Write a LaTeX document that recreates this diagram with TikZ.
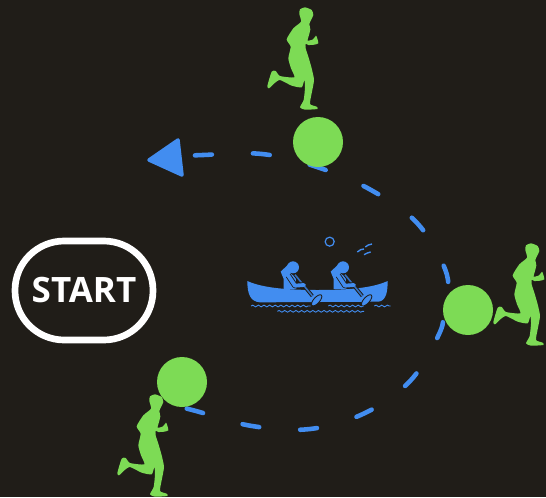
\documentclass[tikz,border=0pt]{standalone}
\usepackage{fontspec}
\setmainfont{Open Sans}
\usetikzlibrary{positioning,backgrounds,decorations.pathmorphing}
\definecolor{nightbg}{RGB}{32,29,24}
\definecolor{runnergreen}{RGB}{125,219,85}
\definecolor{routeblue}{RGB}{66,141,240}
\tikzset{
    pics/runner/.style={code={
        \fill[runnergreen, scale=1/3] plot[smooth cycle, tension=0.35] coordinates {
            (150,22) (170,30) (175,45) (168,60) (163,72) (166,88) (162,105) (158,122)
            (174,118) (183,107) (187,116) (190,130) (178,134) (160,135) (152,131)
            (152,145) (160,170) (170,205) (177,240) (170,280) (165,312) (185,320)
            (187,327) (150,329) (135,322) (146,300) (150,262) (148,240) (140,262)
            (110,257) (75,240) (58,250) (42,265) (37,258) (50,215) (62,213) (75,228)
            (118,232) (108,205) (100,175) (107,140) (95,118) (115,85) (138,65) (133,42) (135,28)};
    }},
    pics/paddler/.style={code={
        \begin{scope}[scale=1/3]
            \fill[routeblue] (0,0) circle (18);
            \fill[routeblue, line join=round] (-28,65) -- (-28,35) -- (-37,13) -- (-14,-9) -- (-8,18) -- (8,30) -- (10,65) -- cycle;
            \draw[nightbg, line width=2pt] (6,22) -- (58,86);
            \draw[routeblue!80!black, line width=0.9pt] (6,22) -- (58,86);
            \filldraw[fill=routeblue, draw=nightbg, line width=0.5pt, rotate around={48:(71,99)}] (71,99) ellipse (21 and 9);
            \draw[nightbg, line width=3.2pt, line join=round] (-14,25) -- (6,55) -- (33,53);
            \draw[routeblue, line width=2.2pt, line join=round, line cap=round] (-14,25) -- (6,55) -- (33,53);
        \end{scope}
    }},
    ball/.style={circle, fill=runnergreen, minimum size=50*0.02cm, inner sep=0pt},
    wave/.style={routeblue, line width=0.5pt, decorate, decoration={snake, amplitude=0.5pt, segment length=3.2pt}},
    route/.style={routeblue, line width=2.6pt, line cap=round, dash pattern=on 9.6pt off 23.4pt, dash phase=30.2pt}
}
\begin{document}
\begin{tikzpicture}[x=0.02cm, y=-0.02cm]
    \useasboundingbox (0,0) rectangle (546,497);

    % Start
    \node[draw=white, line width=3.8pt, rounded corners=28pt, minimum width=138*0.02cm,
        minimum height=99*0.02cm, text=white, font=\bfseries\fontsize{19.9}{22}\selectfont] (start) at (84,290.5) {START};

    % Balls
    \node[ball] (ball1) at (318,142) {};
    \node[ball] (ball2) at (468,310) {};
    \node[ball] (ball3) at (182,382) {};
    \coordinate (tip) at (190,156);

    % Route and runners, under the balls
    \begin{scope}[on background layer]
        \fill[nightbg] (0,0) rectangle (546,497);
        \draw[route] plot[smooth, tension=0.6] coordinates {(ball3.south) (196,411) (252,426) (310,429) (365,413)
            (411,380) (440,332) (ball2.west) (447,275) (418,224) (371,190) (ball1.south) (262,154) (203,155) (tip)};
        \pic at (255,0) {runner};
        \pic at (481,236) {runner};
        \pic at (105,387) {runner};
    \end{scope}
    \fill[routeblue, draw=routeblue, line width=2pt, line join=round] (149,160) -- (178,140) -- (182,175) -- cycle;

    % Canoe
    \begin{scope}[shift={(240,225)}, scale=1/3]
        \fill[routeblue] (22,168) .. controls (70,190) and (150,195) .. (232,195)
            .. controls (320,195) and (395,190) .. (443,168)
            .. controls (443,195) and (440,228) .. (415,230) -- (60,232)
            .. controls (30,230) and (22,205) .. (22,168) -- cycle;
        \pic at (159,127) {paddler};
        \pic at (309,127) {paddler};
        \draw[routeblue, line width=0.7pt] (269,50) circle (13.5);
        \draw[routeblue, line width=0.8pt] (352,81) -- (362,74) -- (372,72) (376,66) -- (385,60) -- (396,57)
            (372,89) -- (382,84) -- (392,81);
        \draw[wave] (33,243) -- (212,243);
        \draw[wave] (265,243) -- (372,243);
        \draw[wave] (403,243) -- (452,243);
        \draw[wave] (112,259) -- (372,259);
    \end{scope}
\end{tikzpicture}
\end{document}
